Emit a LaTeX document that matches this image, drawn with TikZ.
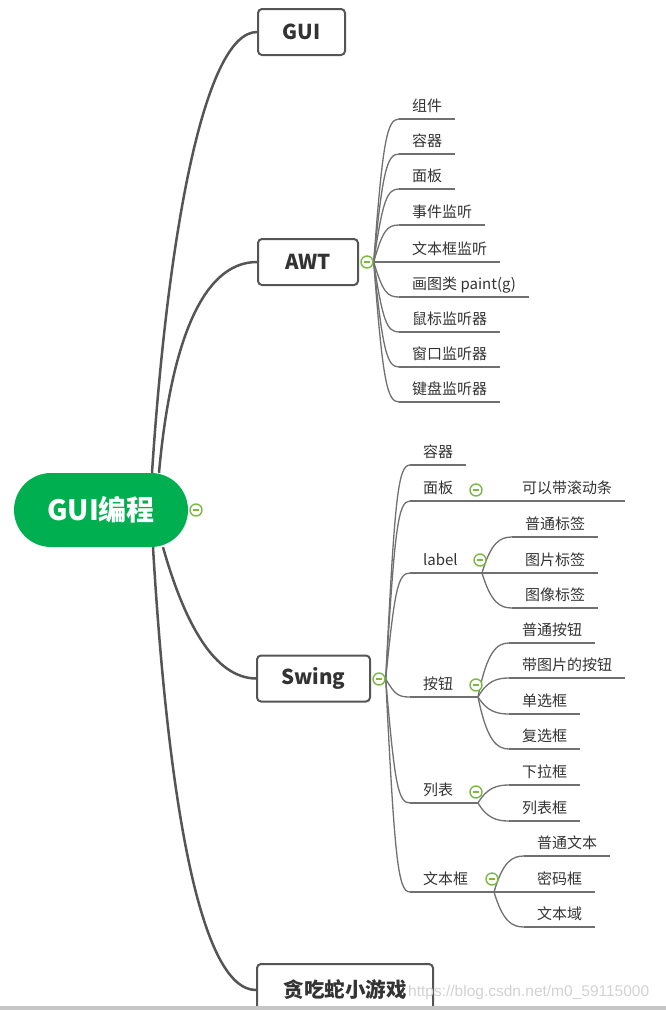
\documentclass[tikz,border=0pt]{standalone}
\usepackage{fontspec}
\setmainfont{Noto Sans CJK SC}
\newfontfamily\wmfont{Liberation Sans}
\usetikzlibrary{calc,backgrounds}
\definecolor{rootg}{RGB}{0,176,80}
\definecolor{iconc}{RGB}{122,186,68}
\definecolor{mainline}{RGB}{85,85,85}
\definecolor{subline}{RGB}{112,112,112}
\definecolor{txt}{RGB}{51,51,51}
\newcommand\mybar{\textcolor{iconc}{\rule{6pt}{1.6pt}}}
\begin{document}
\begin{tikzpicture}[x=1pt,y=-1pt,
  root/.style={rectangle, rounded corners=37pt, fill=rootg, text=white,
    font=\fontsize{28}{30}\selectfont\bfseries, minimum width=174pt,
    minimum height=74pt, inner sep=0pt},
  topic/.style={rectangle, rounded corners=4pt, draw=mainline, line width=2pt,
    fill=white, text=txt, font=\fontsize{20.5}{22}\selectfont\bfseries,
    minimum height=46pt, inner sep=0pt},
  leaf/.style={inner xsep=13pt, inner ysep=4.3pt, text height=12pt,
    text depth=3pt, text=txt, font=\fontsize{15}{17}\selectfont, anchor=south west},
  mainbr/.style={draw=mainline, line width=2.5pt},
  br/.style={draw=subline, line width=1.3pt},
  fan/.style={to path={.. controls
      ($(\tikztostart)!0.85!(\tikztostart|-\tikztotarget)+(9,0)$) and
      ($(\tikztotarget)+(-12,0)$) .. (\tikztotarget) \tikztonodes}},
  icon/.style={circle, draw=iconc, line width=1.4pt, fill=white,
    minimum size=12pt, inner sep=0pt},
]
\useasboundingbox (0,0) rectangle (666,1010);
\clip (0,0) rectangle (666,1010);

% root and topics
\node[root] (root) at (101,510) {GUI编程};
\node[topic, minimum width=87pt] (gui) at (301.5,32) {GUI};
\node[topic, minimum width=100pt] (awt) at (308,262) {AWT};
\node[topic, minimum width=113pt] (swing) at (313.5,678.5) {Swing};
\node[topic, minimum width=176pt, minimum height=52pt] (snake) at (345,990) {贪吃蛇小游戏};

% AWT leaves
\node[leaf] (a1) at (399,119) {组件};
\node[leaf] (a2) at (399,154) {容器};
\node[leaf] (a3) at (399,189) {面板};
\node[leaf] (a4) at (399,225) {事件监听};
\node[leaf] (a5) at (399,262) {文本框监听};
\node[leaf] (a6) at (399,297) {画图类 paint(g)};
\node[leaf] (a7) at (399,332) {鼠标监听器};
\node[leaf] (a8) at (399,367) {窗口监听器};
\node[leaf] (a9) at (399,402) {键盘监听器};

% Swing first level
\node[leaf] (s1) at (410,465) {容器};
\node[leaf] (s2) at (410,501) {面板};
\node[leaf] (s3) at (410,573) {label};
\node[leaf] (s4) at (410,697) {按钮};
\node[leaf] (s5) at (410,803) {列表};
\node[leaf] (s6) at (410,892) {文本框};

% Swing second level
\node[leaf] (c21) at (509,501) {可以带滚动条};
\node[leaf] (c31) at (512,537) {普通标签};
\node[leaf] (c32) at (512,573) {图片标签};
\node[leaf] (c33) at (512,608) {图像标签};
\node[leaf] (c41) at (509,643) {普通按钮};
\node[leaf] (c42) at (509,678) {带图片的按钮};
\node[leaf] (c43) at (509,714) {单选框};
\node[leaf] (c44) at (509,749) {复选框};
\node[leaf] (c51) at (509,785) {下拉框};
\node[leaf] (c52) at (509,821) {列表框};
\node[leaf] (c61) at (524,856) {普通文本};
\node[leaf] (c62) at (524,892) {密码框};
\node[leaf] (c63) at (524,927) {文本域};

% collapse icons
\node[icon] (rooti) at (196,510) {\mybar};
\node[icon] (awti) at (367,262) {\mybar};
\node[icon] (swingi) at (379,679) {\mybar};
\node[icon] (s2i) at (476,490) {\mybar};
\node[icon] (s3i) at (480,560) {\mybar};
\node[icon] (s4i) at (476,685) {\mybar};
\node[icon] (s5i) at (476,792) {\mybar};
\node[icon] (s6i) at (492,879) {\mybar};

% branch points under the icons
\coordinate (s2b) at ($(s2i |- s2.south)+(2,0)$);
\coordinate (s3b) at ($(s3i |- s3.south)+(2,0)$);
\coordinate (s4b) at ($(s4i |- s4.south)+(2,0)$);
\coordinate (s5b) at ($(s5i |- s5.south)+(2,0)$);
\coordinate (s6b) at ($(s6i |- s6.south)+(2,0)$);

\begin{scope}[on background layer]
  % main branches
  \draw[mainbr] ($(root.north)+(51,0)$) .. controls (168,230) and (205,32) .. (gui.west);
  \draw[mainbr] ($(root.north)+(58,0)$) .. controls (170,350) and (200,262) .. (awt.west);
  \draw[mainbr] ($(root.south)+(62,0)$) .. controls (185,625) and (215,678) .. (swing.west);
  \draw[mainbr] ($(root.south)+(52,0)$) .. controls (168,800) and (200,990) .. (snake.west);
  % AWT
  \foreach \i in {1,...,9} {
    \draw[br] (awti.east) to[fan] (a\i.south west);
    \draw[br] (a\i.south west) -- (a\i.south east);
  }
  % Swing level 1
  \foreach \i in {1,...,6} {
    \draw[br] (swingi.east) to[fan] (s\i.south west);
  }
  \draw[br] (s1.south west) -- (s1.south east);
  \foreach \i in {2,...,6} {
    \draw[br] (s\i.south west) -- (s\i b);
  }
  % Swing level 2
  \draw[br] (s2b) to[fan] (c21.south west);
  \foreach \i in {1,2,3} { \draw[br] (s3b) to[fan] (c3\i.south west); }
  \foreach \i in {1,...,4} { \draw[br] (s4b) to[fan] (c4\i.south west); }
  \foreach \i in {1,2} { \draw[br] (s5b) to[fan] (c5\i.south west); }
  \foreach \i in {1,2,3} { \draw[br] (s6b) to[fan] (c6\i.south west); }
  \foreach \n in {c21,c31,c32,c33,c41,c42,c43,c44,c51,c52,c61,c62,c63} {
    \draw[br] (\n.south west) -- (\n.south east);
  }
\end{scope}

% watermark and bottom bar
\node[font=\wmfont\fontsize{15.5}{17}\selectfont, text=gray!35, anchor=west,
  inner sep=0pt] (wmk) at (408,992) {https://blog.csdn.net/m0\_59115000};
\fill[gray!45] (0,1006) rectangle (666,1010);
\end{tikzpicture}
\end{document}
